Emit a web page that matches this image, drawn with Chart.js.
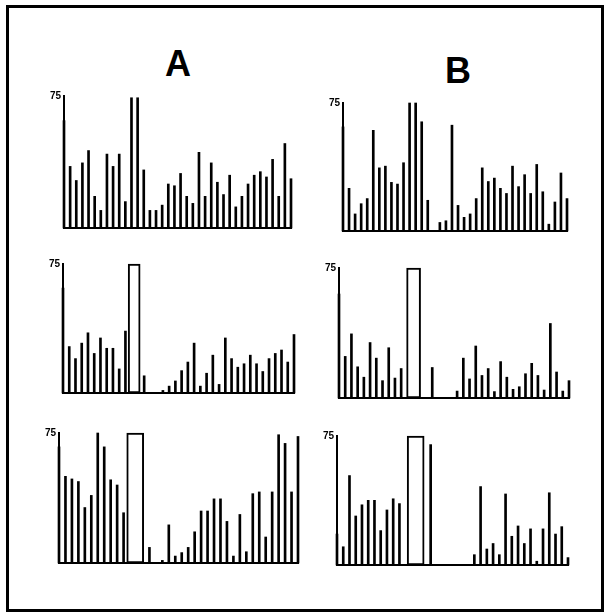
<!DOCTYPE html>
<html>
<head>
<meta charset="utf-8">
<script src="https://cdn.jsdelivr.net/npm/chart.js@4.4.0/dist/chart.umd.min.js"></script>
<style>
  body { margin: 0; background: #fff; }
  #page { position: relative; width: 611px; height: 616px; }
  #frame { position: absolute; left: 6px; top: 5px; width: 592px; height: 601px; border: 3px solid #000; }
  .title { position: absolute; width: 40px; text-align: center; font: bold 36px "Liberation Sans", Arial, sans-serif; line-height: 36px; }
  canvas { position: absolute; }
</style>
</head>
<body>
<div id="page">
  <div id="frame"></div>
  <div class="title" style="left:158px; top:46px;">A</div>
  <div class="title" style="left:438px; top:53px;">B</div>
</div>
<script>
// bins along the x axis (same for every panel)
const bins = [0,1,2,3,4,5,6,7,8,9,10,11,12,13,14,15,16,17,18,19,20,21,22,23,24,25,26,27,28,29,30,31,32,33,34,35,36,37];
const yMax = 75;
const yTicks = [75];

// bar heights (null = hidden under the open box)
const a1 = [61,35,27,37,44,18,10,42,35,42,15,74,74,33,10,10,13,25,24,31,18,14,43,18,37,26,19,30,12,18,25,30,32,29,39,18,48,28];
const b1 = [61,25,10,16,19,59,37,38,28.5,27.5,40,75,75,64,18,0,5,6,62,15,8,10,19,37,29,31,25,22,38,26,33,22,39,23,4,17,34,19];
const a2 = [61,27,20,29,35,23,32,26,26,14,36,null,null,10,0,0,1.5,4,7,13,18,29,4,11.5,22,5,32,20,15,17,22,17,12.5,20,23,25,18,34];
const b2 = [60,24,37,18,12,32,23,10,29,11.5,17,null,null,0,0,17.6,0,0,0,4,23,11,30,13,17,3.7,21,12,5,6.5,14,20,13,4.6,43,15,4,10];
const a3 = [67,50,48.5,47,32,39,75,67,48,45,29,null,null,0,9,0,1.5,22,4,6,9,18,30,30,37,37,24,4,28,6.5,40,41,15,41,74,69,41,73];
const b3 = [18,10.6,52,28.5,35,37.6,37.6,20,32,38.5,35.7,null,null,null,null,70,0,0,0,0,0,0,6,45.6,9.3,12.5,6,41.3,16.7,22.7,12.5,21,2.2,21,42,18,22.3,4.3];

// where the open (off-scale) box sits on the bin axis, per panel
const boxAt = [null, null, 11.4, 12.0, 11.8, 12.6];

const series = [a1, b1, a2, b2, a3, b3];

// panel placement on the page: y-axis x, top of scale, baseline, right end
const panels = [
  { axis: 64,  top: 96,  base: 233, right: 291, boxW: 0 },
  { axis: 343, top: 103, base: 236, right: 567, boxW: 0 },
  { axis: 63,  top: 264, base: 398, right: 294, boxW: 12 },
  { axis: 339, top: 268, base: 403, right: 569, boxW: 14 },
  { axis: 59,  top: 433, base: 568, right: 298, boxW: 17 },
  { axis: 337, top: 436, base: 570, right: 568, boxW: 17 }
];

const LEFT = 24, TOP = 10, RIGHT = 4, BOTTOM = 4;
const page = document.getElementById('page');

panels.forEach(function (p, i) {
  const c = document.createElement('canvas');
  const w = p.right - p.axis + LEFT + RIGHT;
  const h = p.base - p.top + TOP + BOTTOM;
  c.width = w; c.height = h;
  c.style.left = (p.axis - LEFT) + 'px';
  c.style.top = (p.top - TOP) + 'px';
  c.style.width = w + 'px';
  c.style.height = h + 'px';
  page.appendChild(c);

  const datasets = [{
    data: bins.map(function (b, k) { return { x: b, y: series[i][k] }; }),
    backgroundColor: '#000',
    barThickness: 2,
    grouped: false,
    clip: false
  }];
  if (boxAt[i] !== null) {
    datasets.push({
      data: [{ x: boxAt[i], y: yMax }],
      backgroundColor: '#fff',
      borderColor: '#000',
      borderWidth: 2,
      borderSkipped: false,
      barThickness: p.boxW,
      grouped: false,
      clip: false
    });
  }

  new Chart(c, {
    type: 'bar',
    data: { datasets: datasets },
    options: {
      responsive: false,
      animation: false,
      layout: { padding: { top: TOP, right: RIGHT, bottom: 0, left: 0 } },
      plugins: { legend: { display: false }, tooltip: { enabled: false } },
      scales: {
        x: {
          type: 'linear',
          offset: false,
          min: bins[0],
          max: bins[bins.length - 1],
          grid: { display: false },
          ticks: { display: false },
          border: { display: true, color: '#000', width: 2 },
          afterFit: function (s) { s.height = BOTTOM; }
        },
        y: {
          min: 0,
          max: yMax,
          grid: { display: false, drawTicks: false },
          border: { display: true, color: '#000', width: 2 },
          afterBuildTicks: function (s) { s.ticks = yTicks.map(function (v) { return { value: v }; }); },
          ticks: {
            color: '#000',
            padding: 3,
            font: { family: 'Liberation Sans, Arial, sans-serif', size: 10, weight: 'bold' },
            callback: function (v) { return String(v); }
          },
          afterFit: function (s) { s.width = LEFT; }
        }
      }
    }
  });
});
</script>
</body>
</html>
